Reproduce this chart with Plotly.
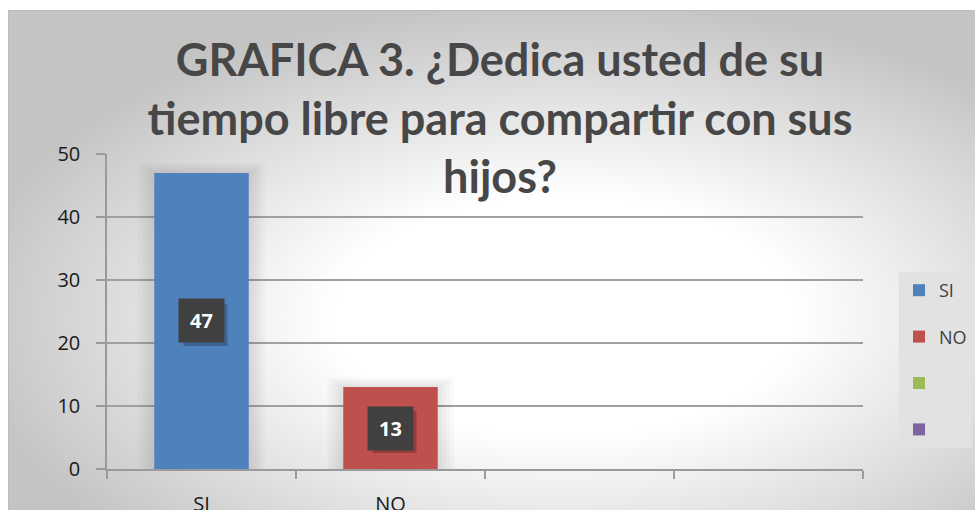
import base64
import plotly.graph_objects as go

# ---- data ----
categories = ["SI", "NO", " ", "  "]
legend_names = ["SI", "NO", " ", "  "]
values = [47, 13, 0, 0]
label_values = [47, 13]
colors = ["#4F81BD", "#C0504D", "#9BBB59", "#8064A2"]
y_ticks = [0, 10, 20, 30, 40, 50]
title_lines = ["GRAFICA 3. ¿Dedica usted de su", "tiempo libre para compartir con sus", "hijos?"]

W, H = 975, 510
L, R, T, B = 107, 112, 154, 41
PW, PH = W - L - R, H - T - B
BAR_W = 0.5
px_x = 4 / PW          # category units per pixel
px_y = 50 / PH         # value units per pixel

svg = f'''<svg xmlns="http://www.w3.org/2000/svg" width="{W}" height="{H}" viewBox="0 0 {W} {H}">
<defs><radialGradient id="g" cx="0.57" cy="0.6" r="0.62">
<stop offset="0" stop-color="#ffffff"/><stop offset="0.38" stop-color="#ffffff"/>
<stop offset="1" stop-color="#c4c4c4"/></radialGradient></defs>
<rect x="0" y="0" width="{W}" height="{H}" fill="#ffffff"/>
<rect x="8.5" y="10.5" width="{W}" height="{H}" fill="url(#g)" stroke="#bcbcbc" stroke-width="1"/>
</svg>'''
src = "data:image/svg+xml;base64," + base64.b64encode(svg.encode()).decode()

fig = go.Figure()

# soft glow behind the bars (derived from the same values)
for off in (16, 12, 8, 4):
    fig.add_trace(go.Bar(
        x=categories[:2], y=[v + off * px_y * 0.6 for v in label_values],
        width=BAR_W + 2 * off * px_x, marker=dict(color="rgba(0,0,0,0.022)", line=dict(width=0)),
        showlegend=False, hoverinfo="skip",
    ))

for cat, name, val, col in zip(categories, legend_names, values, colors):
    fig.add_trace(go.Bar(
        x=[cat], y=[val], name=name, width=BAR_W,
        marker=dict(color=col, line=dict(width=0)),
        legendgroup=name, hoverinfo="skip",
    ))

for i, v in enumerate(label_values):
    fig.add_shape(type="rect", xref="x", yref="y", xsizemode="pixel", ysizemode="pixel",
                  xanchor=i, yanchor=v / 2, x0=-18, x1=26, y0=-25, y1=17,
                  fillcolor="rgba(0,0,0,0.22)", line=dict(width=0), layer="above")
    fig.add_annotation(x=categories[i], y=v / 2, text=f"<b>{v}</b>", showarrow=False,
                       bgcolor="#404040", width=43, height=41,
                       font=dict(family="Open Sans", size=20, color="#ffffff"))

fig.add_layout_image(dict(
    source=src, xref="paper", yref="paper",
    x=-L / PW, y=1 + T / PH, sizex=W / PW, sizey=H / PH,
    xanchor="left", yanchor="top", sizing="stretch", layer="below",
))

fig.update_layout(
    width=W, height=H,
    margin=dict(l=L, r=R, t=T, b=B, autoexpand=False),
    paper_bgcolor="rgba(0,0,0,0)", plot_bgcolor="rgba(0,0,0,0)",
    barmode="overlay",
    title=dict(
        text="<b>" + "<br>".join(title_lines) + "</b>",
        x=500 / W, xanchor="center", xref="container",
        y=1 - 76 / H, yanchor="top", yref="container",
        font=dict(family="Lato", size=45, color="#474747"),
    ),
    xaxis=dict(
        type="category", categoryorder="array", categoryarray=categories,
        range=[-0.5, 3.5], tickson="boundaries", ticks="outside", ticklen=8,
        tickcolor="#9a9a9a", tickwidth=1.5, showline=True, linecolor="#9a9a9a",
        linewidth=1.5, showgrid=False, ticklabelstandoff=16,
        tickfont=dict(family="Open Sans", size=20, color="#1a1a1a"),
    ),
    yaxis=dict(
        range=[0, 50], tickvals=y_ticks, ticks="outside", ticklen=9,
        tickcolor="#9a9a9a", tickwidth=1.5, showline=True, linecolor="#9a9a9a",
        linewidth=1.5, showgrid=True, gridcolor="#a0a0a0", gridwidth=1.5,
        zeroline=False, ticklabelstandoff=12,
        tickfont=dict(family="Open Sans", size=20, color="#1a1a1a"),
    ),
    legend=dict(
        x=(899 - L) / PW, xanchor="left", y=(469 - 272) / PH, yanchor="top",
        bgcolor="#e2e2e2", font=dict(family="Open Sans", size=18, color="#404040"),
        tracegroupgap=20, traceorder="grouped", itemwidth=30,
    ),
    showlegend=True,
)

fig.write_html("out.html", config={"displayModeBar": False},
               post_script="document.body.style.margin='0';")
